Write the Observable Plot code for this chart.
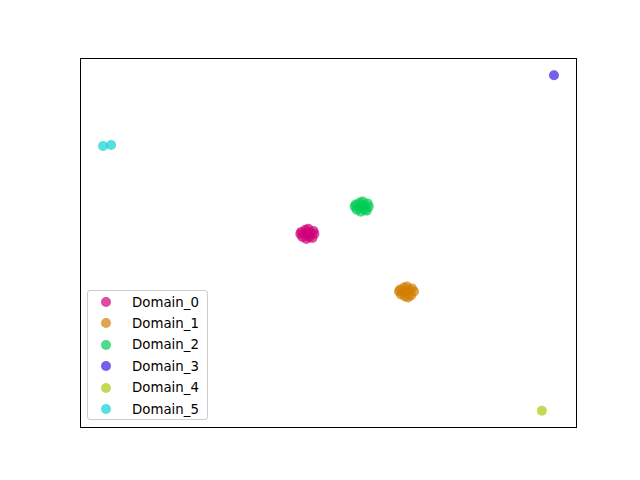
<!DOCTYPE html>
<html>
<head>
<meta charset="utf-8">
<script src="https://cdn.jsdelivr.net/npm/d3@7"></script>
<script src="https://cdn.jsdelivr.net/npm/@observablehq/plot@0.6"></script>
<style>
  body { margin: 0; background: #fff; }
  #wrap { position: relative; width: 640px; height: 480px; font-family: "DejaVu Sans", sans-serif; }
  #legend { position: absolute; left: 87px; top: 290px; width: 121px; height: 130px; border: 1px solid #cccccc; border-radius: 3px; background: rgba(255,255,255,0.8); box-sizing: border-box; }
  .item { position: absolute; left: 0; height: 20px; display: flex; align-items: center; font-size: 13.33px; color: #000; }
  .sw { position: absolute; left: 13px; width: 10px; height: 10px; border-radius: 50%; box-sizing: border-box; }
  .lab { position: absolute; left: 44px; white-space: nowrap; }
</style>
</head>
<body>
<div id="wrap"></div>
<script>
const domains = ["Domain_0", "Domain_1", "Domain_2", "Domain_3", "Domain_4", "Domain_5"];
const colors = ["#ce0077", "#d27d00", "#00cc55", "#3d1de0", "#a8cc0e", "#0fd0d0"];

// cluster points (x, y) per domain
const domain0X = [-2.2, -1.6, -2.8, -1.7, -2.7, -2.1, -2.3, -1.5, -2.9, -1.9, -2.4, -2.0];
const domain0Y = [0.7, 1.0, 0.9, 0.3, 0.4, 1.2, 0.2, 0.7, 0.7, 0.8, 1.1, 0.4];
const domain1X = [7.6, 8.2, 7.0, 8.1, 7.1, 7.7, 7.5, 8.4, 6.9, 7.9, 7.4, 7.8];
const domain1Y = [-5.0, -4.7, -4.8, -5.4, -5.3, -4.5, -5.5, -5.0, -5.0, -4.9, -4.6, -5.6];
const domain2X = [3.2, 3.8, 2.6, 3.7, 2.7, 3.3, 3.1, 3.9, 2.5, 3.4, 3.0, 3.5];
const domain2Y = [3.4, 3.7, 3.6, 3.0, 3.1, 3.9, 2.9, 3.4, 3.4, 3.5, 3.8, 3.1];
const domain3X = [22.3];
const domain3Y = [16.4];
const domain4X = [21.1];
const domain4Y = [-16.8];
const domain5X = [-22.5, -21.7];
const domain5Y = [9.4, 9.5];

const xsAll = [domain0X, domain1X, domain2X, domain3X, domain4X, domain5X];
const ysAll = [domain0Y, domain1Y, domain2Y, domain3Y, domain4Y, domain5Y];

const points = [];
domains.forEach((d, i) => {
  xsAll[i].forEach((x, j) => points.push({domain: d, x, y: ysAll[i][j]}));
});

const xExt = d3.extent(points, d => d.x);
const yExt = d3.extent(points, d => d.y);
const xm = (xExt[1] - xExt[0]) * 0.05, ym = (yExt[1] - yExt[0]) * 0.05;

const chart = Plot.plot({
  width: 640,
  height: 480,
  marginLeft: 80,
  marginRight: 64,
  marginTop: 58,
  marginBottom: 53,
  x: {domain: [xExt[0] - xm, xExt[1] + xm], axis: null},
  y: {domain: [yExt[0] - ym, yExt[1] + ym], axis: null},
  color: {domain: domains, range: colors},
  marks: [
    Plot.frame({stroke: "#000", strokeWidth: 1}),
    Plot.dot(points, {x: "x", y: "y", fill: "domain", fillOpacity: 0.7, r: 5, stroke: "none"})
  ]
});
const wrap = document.getElementById("wrap");
wrap.appendChild(chart);

const legend = document.createElement("div");
legend.id = "legend";
domains.forEach((d, i) => {
  const item = document.createElement("div");
  item.className = "item";
  item.style.top = (1 + i * 21.4) + "px";
  item.style.width = "100%";
  const sw = document.createElement("div");
  sw.className = "sw";
  sw.style.background = colors[i];
  sw.style.opacity = 0.7;
  const lab = document.createElement("div");
  lab.className = "lab";
  lab.textContent = d;
  item.appendChild(sw);
  item.appendChild(lab);
  legend.appendChild(item);
});
wrap.appendChild(legend);
</script>
</body>
</html>
